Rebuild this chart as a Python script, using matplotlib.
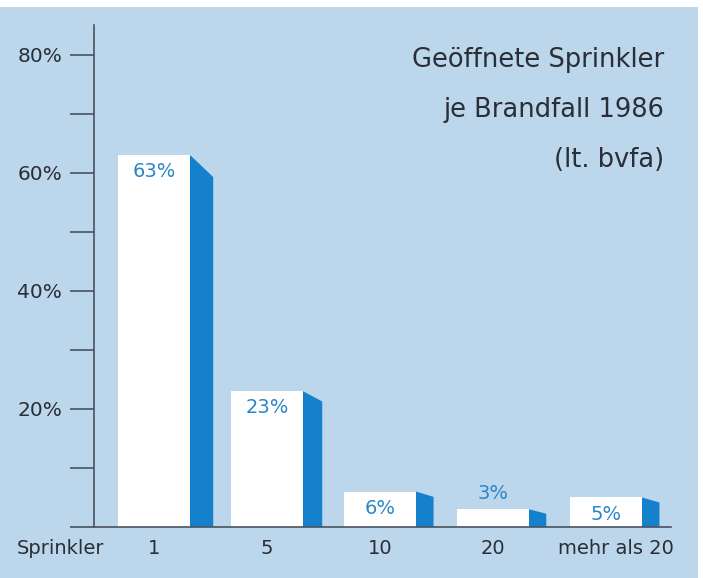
import matplotlib.pyplot as plt
from matplotlib.patches import Rectangle
from matplotlib.transforms import ScaledTranslation

# data
categories = ["1", "5", "10", "20", "mehr als 20"]
anteil = [63, 23, 6, 3, 5]
y_ticks = [0, 10, 20, 30, 40, 50, 60, 70, 80]
y_labels = ["", "", "20%", "", "40%", "", "60%", "", "80%"]
title_lines = ["Geöffnete Sprinkler", "je Brandfall 1986", "(lt. bvfa)"]

bg = "#bcd6ec"
blue = "#1580cc"
label_blue = "#2b86c9"
dark = "#2a2e36"

fig = plt.figure(figsize=(7.03, 5.78), dpi=100, facecolor="white")
# light blue panel with small white margin on top and right
fig.patches.append(Rectangle((0, 0), 698 / 703, 571 / 578, transform=fig.transFigure,
                             facecolor=bg, edgecolor="none", zorder=-5))

ax = fig.add_axes([94 / 703, 51 / 578, 577 / 703, 502 / 578])
ax.set_facecolor("none")
ax.set_zorder(2)
ax.set_xlim(-0.531, 4.575)
ax.set_ylim(0, 85)

face_w = 0.637
for i, v in enumerate(anteil):
    x1 = i + face_w / 2
    # white front face
    ax.bar(i, v, width=face_w, color="white", edgecolor="none", zorder=2)
    # blue side with slanted top
    side = 0.150 + 0.00088 * v
    drop = 0.6 + 0.05 * v
    ax.fill([x1, x1 + side, x1 + side, x1], [0, 0, v - drop, v],
            color=blue, lw=0, zorder=2)
    if v >= 4:
        ax.text(i, v - 2.8, f"{v}%", ha="center", va="center",
                fontsize=14, color=label_blue, zorder=3)
    else:
        ax.text(i, v + 2.6, f"{v}%", ha="center", va="center",
                fontsize=14, color=label_blue, zorder=3)

for s in ["top", "right"]:
    ax.spines[s].set_visible(False)
ax.spines["left"].set_color("#4a5360")
ax.spines["bottom"].set_color("#4a5360")
ax.spines["left"].set_linewidth(1.2)
ax.spines["bottom"].set_linewidth(1.2)
ax.spines["bottom"].set_zorder(4)

ax.set_yticks(y_ticks)
ax.set_yticklabels(y_labels)
ax.tick_params(axis="y", direction="out", length=17, width=1.2, color="#4a5360",
               pad=6, labelsize=14.5, labelcolor=dark)
ax.set_xticks(range(len(categories)))
ax.set_xticklabels(categories)
ax.tick_params(axis="x", length=0, pad=9, labelsize=14, labelcolor=dark)
# last category label sits a little right of its bar
last = ax.get_xticklabels()[-1]
last.set_transform(last.get_transform() + ScaledTranslation(0.1, 0, fig.dpi_scale_trans))

fig.text(17 / 703, 1 - 549 / 578, "Sprinkler", ha="left", va="center",
         fontsize=14, color=dark)

for k, line in enumerate(title_lines):
    fig.text(664 / 703, 1 - (60 + 50 * k) / 578, line, ha="right", va="center",
             fontsize=18.5, color=dark)

fig.savefig("out.png", dpi=100, facecolor=fig.get_facecolor())
